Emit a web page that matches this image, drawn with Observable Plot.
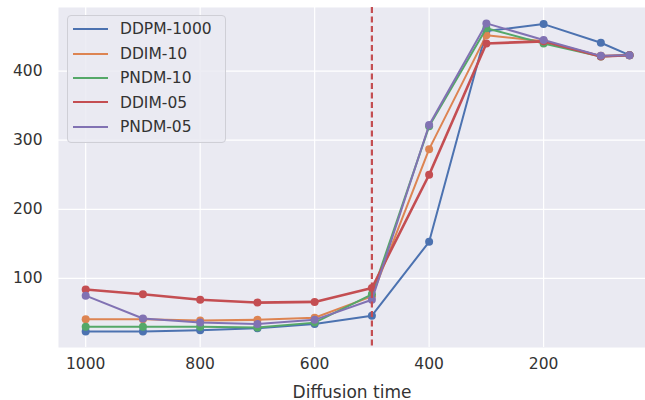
<!DOCTYPE html>
<html>
<head>
<meta charset="utf-8">
<script src="https://cdn.jsdelivr.net/npm/d3@7"></script>
<script src="https://cdn.jsdelivr.net/npm/@observablehq/plot@0.6"></script>
<style>
  html, body { margin: 0; padding: 0; background: #fff; }
  #wrap { position: relative; width: 645px; height: 400px; font-family: "DejaVu Sans", sans-serif; }
  #legend { position: absolute; left: 67px; top: 15px; width: 157px; height: 126px;
    background: rgba(234,234,242,0.85); border: 1px solid #cfcfd6; border-radius: 4px; }
  .row { position: absolute; left: 0; height: 20px; display: flex; align-items: center; }
  .sw { position: absolute; left: 5px; width: 35px; height: 0; }
  .lab { position: absolute; left: 52px; font-size: 15.5px; color: #333333; white-space: nowrap; line-height: 20px; }
</style>
</head>
<body>
<div id="wrap"><div id="chart"></div><div id="legend"></div></div>
<script>
const times = [1000, 900, 800, 700, 600, 500, 400, 300, 200, 100, 50];
const seriesNames = ["DDPM-1000", "DDIM-10", "PNDM-10", "DDIM-05", "PNDM-05"];
const colors = ["#4c72b0", "#dd8452", "#55a868", "#c44e52", "#8172b3"];
const widths = [2, 2, 2, 2.6, 2];
const ddpm1000 = [23, 23, 25, 28, 34, 46, 153, 458, 468, 441, 423];
const ddim10   = [41, 41, 39, 40, 43, 74, 287, 452, 443, 422, 423];
const pndm10   = [30, 30, 30, 29, 36, 77, 320, 462, 440, 421, 423];
const ddim05   = [84, 77, 69, 65, 66, 86, 250, 440, 443, 421, 423];
const pndm05   = [75, 42, 36, 34, 40, 69, 322, 469, 445, 422, 423];
const xTicks = [1000, 800, 600, 400, 200];
const yTicks = [100, 200, 300, 400];
const cutoff = [500];

const allSeries = [ddpm1000, ddim10, pndm10, ddim05, pndm05];
const data = allSeries.flatMap((vals, i) => vals.map((v, j) => ({series: seriesNames[i], t: times[j], v})));

const marks = [
  Plot.frame({fill: "#eaeaf2", stroke: null}),
  Plot.gridX(xTicks, {stroke: "#ffffff", strokeOpacity: 1, strokeWidth: 1.2}),
  Plot.gridY(yTicks, {stroke: "#ffffff", strokeOpacity: 1, strokeWidth: 1.2}),
  Plot.axisX(xTicks, {tickSize: 0, tickPadding: 10, fontSize: 15.5, fill: "#333333", tickFormat: d => String(d),
    label: "Diffusion time", labelAnchor: "center", labelArrow: "none", labelOffset: 50}),
  Plot.axisY(yTicks, {tickSize: 0, tickPadding: 16, fontSize: 15.5, fill: "#333333", tickFormat: d => String(d), label: null}),
];
seriesNames.forEach((name, i) => {
  const d = data.filter(r => r.series === name);
  marks.push(Plot.line(d, {x: "t", y: "v", stroke: colors[i], strokeWidth: widths[i]}));
  marks.push(Plot.dot(d, {x: "t", y: "v", fill: colors[i], r: 4}));
});
marks.push(Plot.ruleX(cutoff, {stroke: "#c44e52", strokeWidth: 2.2, strokeDasharray: "6,3.5"}));

const chart = Plot.plot({
  width: 645,
  height: 400,
  marginLeft: 58,
  marginRight: 0,
  marginTop: 7,
  marginBottom: 53,
  style: {fontFamily: "DejaVu Sans, sans-serif", fontSize: "17px", color: "#333333", background: "#fff", overflow: "visible"},
  x: {domain: [1047.5, 22], label: null},
  y: {domain: [0, 492], label: null},
  marks
});
document.getElementById("chart").appendChild(chart);
chart.querySelectorAll("[aria-label='x-axis label'] text").forEach(t => t.setAttribute("font-size", "17px"));

const legend = document.getElementById("legend");
seriesNames.forEach((name, i) => {
  const row = document.createElement("div");
  row.className = "row";
  row.style.top = (3 + i * 24.5) + "px";
  const sw = document.createElement("div");
  sw.className = "sw";
  sw.style.borderTop = widths[i] + "px solid " + colors[i];
  sw.style.top = (10 - widths[i] / 2) + "px";
  const lab = document.createElement("div");
  lab.className = "lab";
  lab.textContent = name;
  row.appendChild(sw); row.appendChild(lab);
  legend.appendChild(row);
});
</script>
</body>
</html>
